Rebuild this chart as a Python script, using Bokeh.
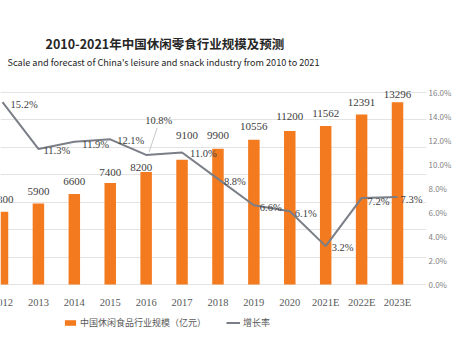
from bokeh.plotting import figure
from bokeh.models import (ColumnDataSource, Range1d, LinearAxis, FixedTicker,
                          PrintfTickFormatter, LabelSet, Label, Legend, LegendItem)
from bokeh.embed import file_html
from bokeh.resources import INLINE

# ---------------- data ----------------
years = ["2012", "2013", "2014", "2015", "2016", "2017", "2018", "2019", "2020", "2021E", "2022E", "2023E"]
scale = [5300, 5900, 6600, 7400, 8200, 9100, 9900, 10556, 11200, 11562, 12391, 13296]
growth = [15.2, 11.3, 11.9, 12.1, 10.8, 11.0, 8.8, 6.6, 6.1, 3.2, 7.2, 7.3]
scale_grid = [0, 2000, 4000, 6000, 8000, 10000, 12000, 14000]
pct_ticks = [0, 2, 4, 6, 8, 10, 12, 14, 16]
title = "2010-2021年中国休闲零食行业规模及预测"
subtitle = "Scale and forecast of China's leisure and snack industry from 2010 to 2021"
legend_labels = ["中国休闲食品行业规模（亿元）", "增长率"]

# ---------------- style / layout (pixels) ----------------
W, H = 472, 355
RIGHT_PANEL = 46            # room for the right-hand % axis
ZERO_Y = 284                # canvas y of the value axis zero line
AXIS_PX = 192               # pixels from 0 to 14000 / 16%
X_FIRST_PX = 2              # canvas x of first category centre
X_STEP_PX = 35.91           # pixels per category
bar_lab_dx = [0, 0, 0, 0, -5, 5, 0, 0, 0, 0, 0, 0]
bar_lab_dy = [12, 12, 12, 11, 5, 24, 13, 13, 14, 12, 12, 8]
pct_lab_dx = [8, 5, 8, 7, -1, 8, 6, 6, 5, 6, 6, 3]
pct_lab_dy = [-2, -2, -3, -1, 34, -1, -3, -2, -2, -1, -3, -3]
leader_i = 4                          # label with a leader line (10.8%)
leader_px = ((3, 3), (11, 27))        # start/end offsets from the point, px (x right, y up)

ORANGE = "#F47A1F"
LINE = "#7A7E86"
FONT = "Noto Sans CJK SC"

frame_w = W - RIGHT_PANEL
px_per_val = AXIS_PX / scale_grid[-1]
px_per_pct = AXIS_PX / pct_ticks[-1]
x0 = -X_FIRST_PX / X_STEP_PX
x1 = x0 + frame_w / X_STEP_PX
y_lo = -(H - ZERO_Y) / px_per_val
y_hi = ZERO_Y / px_per_val
p_lo = -(H - ZERO_Y) / px_per_pct
p_hi = ZERO_Y / px_per_pct

idx = list(range(len(years)))
src = ColumnDataSource(dict(
    x=idx, scale=scale, growth=growth, years=years, zero=[0] * len(years),
    scale_txt=[str(v) for v in scale],
    pct_txt=["%.1f%%" % v for v in growth],
    bdx=bar_lab_dx, bdy=bar_lab_dy, pdx=pct_lab_dx, pdy=pct_lab_dy,
))

p = figure(width=W, height=H, x_range=Range1d(x0, x1), y_range=Range1d(y_lo, y_hi),
           output_backend="svg", toolbar_location=None,
           min_border_left=0, min_border_right=RIGHT_PANEL, min_border_top=0, min_border_bottom=0)
p.outline_line_color = None
p.extra_y_ranges = {"pct": Range1d(p_lo, p_hi)}
p.xaxis.visible = False
p.yaxis.visible = False
p.ygrid.ticker = FixedTicker(ticks=scale_grid)
p.ygrid.grid_line_color = "#E3E3E3"
p.xgrid.grid_line_color = None

ra = LinearAxis(y_range_name="pct", ticker=FixedTicker(ticks=pct_ticks),
                formatter=PrintfTickFormatter(format="%.1f%%"))
ra.axis_line_color = None
ra.major_tick_line_color = None
ra.minor_tick_line_color = None
ra.major_tick_out = 0
ra.major_tick_in = 0
ra.minor_tick_out = 0
ra.minor_tick_in = 0
ra.major_label_text_font = FONT
ra.major_label_text_font_size = "8px"
ra.major_label_text_color = "#7F7F7F"
ra.major_label_standoff = 2
p.add_layout(ra, "right")

bars = p.vbar(x="x", top="scale", width=0.32, source=src, fill_color=ORANGE, line_color=None)

# leader line for the displaced 10.8% label
lx, ly = idx[leader_i], growth[leader_i]
(sx0, sy0), (sx1, sy1) = leader_px
p.segment(x0=[lx + sx0 / X_STEP_PX], y0=[ly + sy0 / px_per_pct],
          x1=[lx + sx1 / X_STEP_PX], y1=[ly + sy1 / px_per_pct],
          y_range_name="pct", line_color="#C8C8C8", line_width=1)

line = p.line(x="x", y="growth", source=src, y_range_name="pct", line_color=LINE, line_width=2)

# category labels under the bars
p.add_layout(LabelSet(x="x", y="zero", text="years", source=src, y_offset=-18,
                      text_align="center", text_baseline="middle", text_font=FONT,
                      text_font_size="10.5px", text_color="#595959"))
# value labels
p.add_layout(LabelSet(x="x", y="scale", text="scale_txt", source=src, x_offset="bdx", y_offset="bdy",
                      text_align="center", text_baseline="middle", text_font=FONT,
                      text_font_size="11px", text_color="#404040"))
p.add_layout(LabelSet(x="x", y="growth", text="pct_txt", source=src, y_range_name="pct",
                      x_offset="pdx", y_offset="pdy", text_align="left", text_baseline="middle",
                      text_font=FONT, text_font_size="10.5px", text_color="#404040"))

legend = Legend(items=[LegendItem(label=legend_labels[0], renderers=[bars]),
                       LegendItem(label=legend_labels[1], renderers=[line])],
                orientation="horizontal", location=(63, 26),
                label_text_font=FONT, label_text_font_size="9px", label_text_color="#595959",
                glyph_width=14, glyph_height=7, label_standoff=3, spacing=20,
                padding=0, margin=0, border_line_color=None, background_fill_alpha=0)
p.add_layout(legend)

p.add_layout(Label(x=45, y=H - 43, x_units="screen", y_units="screen", text=title,
                   text_align="left", text_baseline="middle", text_font=FONT,
                   text_font_size="12.5px", text_font_style="bold", text_color="#262626"))
p.add_layout(Label(x=7, y=H - 61, x_units="screen", y_units="screen", text=subtitle,
                   text_align="left", text_baseline="middle", text_font=FONT,
                   text_font_size="9.15px", text_color="#262626"))

open("out.html", "w").write(file_html(p, INLINE))
